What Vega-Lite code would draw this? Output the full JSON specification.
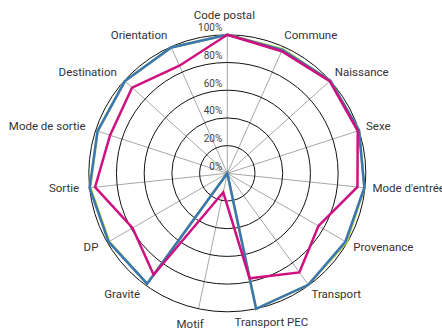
{
  "$schema": "https://vega.github.io/schema/vega-lite/v6.json",
  "width": 442,
  "height": 333,
  "padding": 0,
  "autosize": {"type": "none"},
  "background": "white",
  "config": {"view": {"stroke": null}, "font": "Roboto"},
  "datasets": {
    "cats": [
      {"cat": "Code postal", "idx": 0},
      {"cat": "Commune", "idx": 1},
      {"cat": "Naissance", "idx": 2},
      {"cat": "Sexe", "idx": 3},
      {"cat": "Mode d'entrée", "idx": 4},
      {"cat": "Provenance", "idx": 5},
      {"cat": "Transport", "idx": 6},
      {"cat": "Transport PEC", "idx": 7},
      {"cat": "Motif", "idx": 8},
      {"cat": "Gravité", "idx": 9},
      {"cat": "DP", "idx": 10},
      {"cat": "Sortie", "idx": 11},
      {"cat": "Mode de sortie", "idx": 12},
      {"cat": "Destination", "idx": 13},
      {"cat": "Orientation", "idx": 14}
    ],
    "rings": [
      {"ring": 0, "label": "0%"},
      {"ring": 20, "label": "20%"},
      {"ring": 40, "label": "40%"},
      {"ring": 60, "label": "60%"},
      {"ring": 80, "label": "80%"},
      {"ring": 100, "label": "100%"}
    ],
    "vals": [
      {"series": "G", "idx": 0, "value": 100},
      {"series": "G", "idx": 1, "value": 98.2},
      {"series": "G", "idx": 2, "value": 100},
      {"series": "G", "idx": 3, "value": 100},
      {"series": "G", "idx": 4, "value": 99.5},
      {"series": "G", "idx": 5, "value": 99.5},
      {"series": "G", "idx": 6, "value": 99.5},
      {"series": "G", "idx": 7, "value": 100},
      {"series": "G", "idx": 8, "value": 0},
      {"series": "G", "idx": 9, "value": 98.5},
      {"series": "G", "idx": 10, "value": 98.5},
      {"series": "G", "idx": 11, "value": 99.5},
      {"series": "G", "idx": 12, "value": 98.5},
      {"series": "G", "idx": 13, "value": 99.5},
      {"series": "G", "idx": 14, "value": 99.5},
      {"series": "B", "idx": 0, "value": 100},
      {"series": "B", "idx": 1, "value": 97.5},
      {"series": "B", "idx": 2, "value": 100},
      {"series": "B", "idx": 3, "value": 100},
      {"series": "B", "idx": 4, "value": 99.5},
      {"series": "B", "idx": 5, "value": 98.5},
      {"series": "B", "idx": 6, "value": 99.5},
      {"series": "B", "idx": 7, "value": 100},
      {"series": "B", "idx": 8, "value": 0},
      {"series": "B", "idx": 9, "value": 98.5},
      {"series": "B", "idx": 10, "value": 99},
      {"series": "B", "idx": 11, "value": 100},
      {"series": "B", "idx": 12, "value": 98.5},
      {"series": "B", "idx": 13, "value": 99.5},
      {"series": "B", "idx": 14, "value": 99.5},
      {"series": "M", "idx": 0, "value": 100},
      {"series": "M", "idx": 1, "value": 96.5},
      {"series": "M", "idx": 2, "value": 99.5},
      {"series": "M", "idx": 3, "value": 99},
      {"series": "M", "idx": 4, "value": 94.5},
      {"series": "M", "idx": 5, "value": 76},
      {"series": "M", "idx": 6, "value": 88.5},
      {"series": "M", "idx": 7, "value": 77.5},
      {"series": "M", "idx": 8, "value": 14},
      {"series": "M", "idx": 9, "value": 90.5},
      {"series": "M", "idx": 10, "value": 79},
      {"series": "M", "idx": 11, "value": 96},
      {"series": "M", "idx": 12, "value": 89},
      {"series": "M", "idx": 13, "value": 92.5},
      {"series": "M", "idx": 14, "value": 85}
    ]
  },
  "layer": [
    {
      "data": {"name": "cats"},
      "transform": [
        {"calculate": "datum.idx * 2 * PI / 15", "as": "ang"},
        {"calculate": "100 * sin(datum.ang)", "as": "sx"},
        {"calculate": "100 * cos(datum.ang)", "as": "sy"}
      ],
      "mark": {"type": "rule", "stroke": "#a8a8a8", "strokeWidth": 1},
      "encoding": {
        "x": {"field": "sx", "type": "quantitative", "scale": {"domain": [-164.12, 155.02], "zero": false, "nice": false}, "axis": null},
        "y": {"field": "sy", "type": "quantitative", "scale": {"domain": [-115.31, 125.13], "zero": false, "nice": false}, "axis": null},
        "x2": {"datum": 0},
        "y2": {"datum": 0}
      }
    },
    {
      "data": {"name": "rings"},
      "transform": [{"filter": "datum.ring > 0"}, {"calculate": "0", "as": "c"}],
      "mark": {"type": "arc", "filled": false, "stroke": "#111111", "strokeWidth": 1, "theta": 0, "theta2": 6.2832},
      "encoding": {
        "x": {"field": "c", "type": "quantitative", "scale": {"domain": [-164.12, 155.02], "zero": false, "nice": false}, "axis": null},
        "y": {"field": "c", "type": "quantitative", "scale": {"domain": [-115.31, 125.13], "zero": false, "nice": false}, "axis": null},
        "radius": {"field": "ring", "type": "quantitative", "stack": null, "scale": {"type": "linear", "domain": [0, 100], "range": [0, 138.5], "zero": true}}
      }
    },
    {
      "data": {"name": "vals"},
      "transform": [
        {"filter": "datum.series === 'G'"},
        {"calculate": "datum.idx * 2 * PI / 15", "as": "ang"},
        {"calculate": "datum.value * sin(datum.ang)", "as": "px"},
        {"calculate": "datum.value * cos(datum.ang)", "as": "py"}
      ],
      "mark": {"type": "line", "interpolate": "linear-closed", "stroke": "#b3cf3e", "strokeWidth": 2.5, "strokeJoin": "miter"},
      "encoding": {
        "x": {"field": "px", "type": "quantitative", "scale": {"domain": [-164.12, 155.02], "zero": false, "nice": false}, "axis": null},
        "y": {"field": "py", "type": "quantitative", "scale": {"domain": [-115.31, 125.13], "zero": false, "nice": false}, "axis": null},
        "order": {"field": "idx", "type": "quantitative"}
      }
    },
    {
      "data": {"name": "vals"},
      "transform": [
        {"filter": "datum.series === 'B'"},
        {"calculate": "datum.idx * 2 * PI / 15", "as": "ang"},
        {"calculate": "datum.value * sin(datum.ang)", "as": "px"},
        {"calculate": "datum.value * cos(datum.ang)", "as": "py"}
      ],
      "mark": {"type": "line", "interpolate": "linear-closed", "stroke": "#3a76b2", "strokeWidth": 2.5, "strokeJoin": "miter"},
      "encoding": {
        "x": {"field": "px", "type": "quantitative", "scale": {"domain": [-164.12, 155.02], "zero": false, "nice": false}, "axis": null},
        "y": {"field": "py", "type": "quantitative", "scale": {"domain": [-115.31, 125.13], "zero": false, "nice": false}, "axis": null},
        "order": {"field": "idx", "type": "quantitative"}
      }
    },
    {
      "data": {"name": "vals"},
      "transform": [
        {"filter": "datum.series === 'M'"},
        {"calculate": "datum.idx * 2 * PI / 15", "as": "ang"},
        {"calculate": "datum.value * sin(datum.ang)", "as": "px"},
        {"calculate": "datum.value * cos(datum.ang)", "as": "py"}
      ],
      "mark": {"type": "line", "interpolate": "linear-closed", "stroke": "#cf107f", "strokeWidth": 2.5, "strokeJoin": "miter"},
      "encoding": {
        "x": {"field": "px", "type": "quantitative", "scale": {"domain": [-164.12, 155.02], "zero": false, "nice": false}, "axis": null},
        "y": {"field": "py", "type": "quantitative", "scale": {"domain": [-115.31, 125.13], "zero": false, "nice": false}, "axis": null},
        "order": {"field": "idx", "type": "quantitative"}
      }
    },
    {
      "data": {"name": "rings"},
      "transform": [{"calculate": "0", "as": "c"}],
      "mark": {"type": "text", "align": "right", "baseline": "alphabetic", "dx": -5, "dy": -3.5, "fontSize": 10, "fill": "#444444"},
      "encoding": {
        "x": {"field": "c", "type": "quantitative", "scale": {"domain": [-164.12, 155.02], "zero": false, "nice": false}, "axis": null},
        "y": {"field": "ring", "type": "quantitative", "scale": {"domain": [-115.31, 125.13], "zero": false, "nice": false}, "axis": null},
        "text": {"field": "label"}
      }
    },
    {
      "data": {"name": "cats"},
      "transform": [
        {"filter": "datum.idx === 0"},
        {"calculate": "datum.idx * 2 * PI / 15", "as": "ang"},
        {"calculate": "108.3 * sin(datum.ang)", "as": "lx"},
        {"calculate": "108.3 * cos(datum.ang)", "as": "ly"}
      ],
      "mark": {"type": "text", "align": "center", "baseline": "bottom", "dx": -3, "dy": -2, "fontSize": 11.5, "fill": "#333333"},
      "encoding": {
        "x": {"field": "lx", "type": "quantitative", "scale": {"domain": [-164.12, 155.02], "zero": false, "nice": false}, "axis": null},
        "y": {"field": "ly", "type": "quantitative", "scale": {"domain": [-115.31, 125.13], "zero": false, "nice": false}, "axis": null},
        "text": {"field": "cat"}
      }
    },
    {
      "data": {"name": "cats"},
      "transform": [
        {"filter": "datum.idx >= 1 && datum.idx <= 6"},
        {"calculate": "datum.idx * 2 * PI / 15", "as": "ang"},
        {"calculate": "108.3 * sin(datum.ang)", "as": "lx"},
        {"calculate": "108.3 * cos(datum.ang)", "as": "ly"}
      ],
      "mark": {"type": "text", "align": "left", "baseline": "middle", "dx": -4, "fontSize": 11.5, "fill": "#333333"},
      "encoding": {
        "x": {"field": "lx", "type": "quantitative", "scale": {"domain": [-164.12, 155.02], "zero": false, "nice": false}, "axis": null},
        "y": {"field": "ly", "type": "quantitative", "scale": {"domain": [-115.31, 125.13], "zero": false, "nice": false}, "axis": null},
        "text": {"field": "cat"}
      }
    },
    {
      "data": {"name": "cats"},
      "transform": [
        {"filter": "datum.idx === 7"},
        {"calculate": "datum.idx * 2 * PI / 15", "as": "ang"},
        {"calculate": "108.3 * sin(datum.ang)", "as": "lx"},
        {"calculate": "108.3 * cos(datum.ang)", "as": "ly"}
      ],
      "mark": {"type": "text", "align": "center", "baseline": "middle", "dx": 13, "dy": 3, "fontSize": 11.5, "fill": "#333333"},
      "encoding": {
        "x": {"field": "lx", "type": "quantitative", "scale": {"domain": [-164.12, 155.02], "zero": false, "nice": false}, "axis": null},
        "y": {"field": "ly", "type": "quantitative", "scale": {"domain": [-115.31, 125.13], "zero": false, "nice": false}, "axis": null},
        "text": {"field": "cat"}
      }
    },
    {
      "data": {"name": "cats"},
      "transform": [
        {"filter": "datum.idx === 8"},
        {"calculate": "datum.idx * 2 * PI / 15", "as": "ang"},
        {"calculate": "108.3 * sin(datum.ang)", "as": "lx"},
        {"calculate": "108.3 * cos(datum.ang)", "as": "ly"}
      ],
      "mark": {"type": "text", "align": "center", "baseline": "middle", "dx": -6, "dy": 5, "fontSize": 11.5, "fill": "#333333"},
      "encoding": {
        "x": {"field": "lx", "type": "quantitative", "scale": {"domain": [-164.12, 155.02], "zero": false, "nice": false}, "axis": null},
        "y": {"field": "ly", "type": "quantitative", "scale": {"domain": [-115.31, 125.13], "zero": false, "nice": false}, "axis": null},
        "text": {"field": "cat"}
      }
    },
    {
      "data": {"name": "cats"},
      "transform": [
        {"filter": "datum.idx >= 9"},
        {"calculate": "datum.idx * 2 * PI / 15", "as": "ang"},
        {"calculate": "108.3 * sin(datum.ang)", "as": "lx"},
        {"calculate": "108.3 * cos(datum.ang)", "as": "ly"}
      ],
      "mark": {"type": "text", "align": "right", "baseline": "middle", "dx": 1, "fontSize": 11.5, "fill": "#333333"},
      "encoding": {
        "x": {"field": "lx", "type": "quantitative", "scale": {"domain": [-164.12, 155.02], "zero": false, "nice": false}, "axis": null},
        "y": {"field": "ly", "type": "quantitative", "scale": {"domain": [-115.31, 125.13], "zero": false, "nice": false}, "axis": null},
        "text": {"field": "cat"}
      }
    }
  ]
}
